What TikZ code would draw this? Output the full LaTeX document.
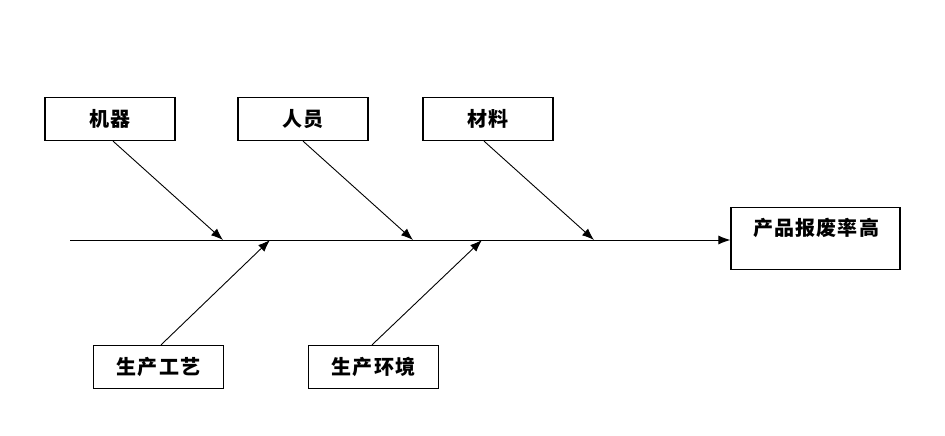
\documentclass[tikz,border=0pt]{standalone}
\usepackage{fontspec}
\newfontfamily\cjk[LetterSpace=6]{Noto Sans CJK SC}
\usetikzlibrary{arrows.meta}
\tikzset{
  cjkfont/.style={font=\cjk\bfseries\fontsize{20pt}{22pt}\selectfont},
  cause/.style={draw=black, line width=1.2pt, minimum width=130pt, minimum height=43pt, inner sep=0pt, cjkfont},
  conn/.style={line width=0.9pt, -{Latex[length=12pt,width=9pt]}}
}
\begin{document}
\begin{tikzpicture}[x=1pt,y=-1pt]
\useasboundingbox (0,0) rectangle (945,436);
\node[cause] (m) at (110,119) {机器};
\node[cause] (p) at (303,119) {人员};
\node[cause] (c) at (488,119) {材料};
\node[cause] (g) at (158.5,367) {生产工艺};
\node[cause] (e) at (373.5,367) {生产环境};
\node[draw=black, line width=1.2pt, minimum width=169pt, minimum height=62pt, inner sep=0pt] (r) at (815.5,238.5) {};
\node[cjkfont, anchor=center] (rt) at (816,228) {产品报废率高};
\coordinate (s0) at (70,240);
\coordinate (t1) at (223,240);
\coordinate (t2) at (413,240);
\coordinate (t3) at (594,240);
\coordinate (t4) at (270,240);
\coordinate (t5) at (482,240);
\draw[conn] (s0) -- (r.west |- s0);
\draw[conn] (m.south -| 113,0) -- (t1);
\draw[conn] (p.south -| 303,0) -- (t2);
\draw[conn] (c.south -| 484,0) -- (t3);
\draw[conn] (g.north -| 161,0) -- (t4);
\draw[conn] (e.north -| 372,0) -- (t5);
\end{tikzpicture}
\end{document}
